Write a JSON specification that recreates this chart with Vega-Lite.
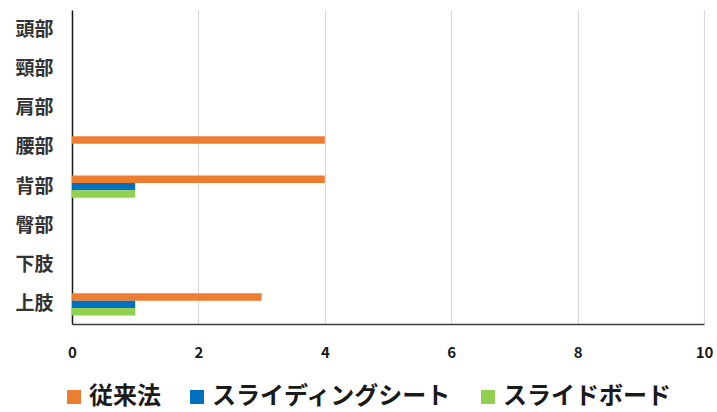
{
  "$schema": "https://vega.github.io/schema/vega-lite/v6.json",
  "width": 632,
  "height": 314,
  "autosize": {"type": "none"},
  "padding": {"left": 72, "top": 10, "right": 13, "bottom": 88},
  "background": "white",
  "config": {
    "font": "Noto Sans CJK JP",
    "view": {"stroke": null}
  },
  "data": {
    "values": [
      {"部位": "頭部", "方法": "従来法", "件数": 0},
      {"部位": "頭部", "方法": "スライディングシート", "件数": 0},
      {"部位": "頭部", "方法": "スライドボード", "件数": 0},
      {"部位": "頸部", "方法": "従来法", "件数": 0},
      {"部位": "頸部", "方法": "スライディングシート", "件数": 0},
      {"部位": "頸部", "方法": "スライドボード", "件数": 0},
      {"部位": "肩部", "方法": "従来法", "件数": 0},
      {"部位": "肩部", "方法": "スライディングシート", "件数": 0},
      {"部位": "肩部", "方法": "スライドボード", "件数": 0},
      {"部位": "腰部", "方法": "従来法", "件数": 4},
      {"部位": "腰部", "方法": "スライディングシート", "件数": 0},
      {"部位": "腰部", "方法": "スライドボード", "件数": 0},
      {"部位": "背部", "方法": "従来法", "件数": 4},
      {"部位": "背部", "方法": "スライディングシート", "件数": 1},
      {"部位": "背部", "方法": "スライドボード", "件数": 1},
      {"部位": "臀部", "方法": "従来法", "件数": 0},
      {"部位": "臀部", "方法": "スライディングシート", "件数": 0},
      {"部位": "臀部", "方法": "スライドボード", "件数": 0},
      {"部位": "下肢", "方法": "従来法", "件数": 0},
      {"部位": "下肢", "方法": "スライディングシート", "件数": 0},
      {"部位": "下肢", "方法": "スライドボード", "件数": 0},
      {"部位": "上肢", "方法": "従来法", "件数": 3},
      {"部位": "上肢", "方法": "スライディングシート", "件数": 1},
      {"部位": "上肢", "方法": "スライドボード", "件数": 1}
    ]
  },
  "mark": {"type": "bar"},
  "encoding": {
    "y": {
      "field": "部位",
      "type": "nominal",
      "sort": ["頭部", "頸部", "肩部", "腰部", "背部", "臀部", "下肢", "上肢"],
      "scale": {"paddingInner": 0.43, "paddingOuter": 0.215},
      "axis": {
        "title": null,
        "ticks": false,
        "domainColor": "#1a1a1a",
        "domainWidth": 1.5,
        "labelFont": "Noto Sans CJK JP",
        "labelFontSize": 19,
        "labelFontWeight": "bold",
        "labelColor": "#333333",
        "labelPadding": 19
      }
    },
    "yOffset": {
      "field": "方法",
      "type": "nominal",
      "sort": ["従来法", "スライディングシート", "スライドボード"]
    },
    "x": {
      "field": "件数",
      "type": "quantitative",
      "scale": {"domain": [0, 10], "nice": false},
      "axis": {
        "title": null,
        "values": [0, 2, 4, 6, 8, 10],
        "ticks": false,
        "grid": true,
        "gridColor": "#D9D9D9",
        "gridWidth": 1.2,
        "domainColor": "#404040",
        "domainWidth": 1.5,
        "labelFont": "Noto Sans CJK JP",
        "labelFontSize": 15,
        "labelFontWeight": "bold",
        "labelColor": "#1a1a1a",
        "labelPadding": 21,
        "labelFlush": false
      }
    },
    "color": {
      "field": "方法",
      "type": "nominal",
      "sort": ["従来法", "スライディングシート", "スライドボード"],
      "scale": {
        "domain": ["従来法", "スライディングシート", "スライドボード"],
        "range": ["#ED7D31", "#0070C0", "#92D050"]
      },
      "legend": {
        "title": null,
        "orient": "none",
        "direction": "horizontal",
        "legendX": -10,
        "legendY": 375,
        "symbolType": "square",
        "symbolSize": 196,
        "symbolStrokeWidth": 0,
        "symbolOpacity": 1,
        "labelFont": "Noto Sans CJK JP",
        "labelFontSize": 24,
        "labelFontWeight": "bold",
        "labelColor": "#1a1a1a",
        "labelOffset": 3,
        "labelLimit": 400,
        "columnPadding": 24
      }
    }
  }
}
